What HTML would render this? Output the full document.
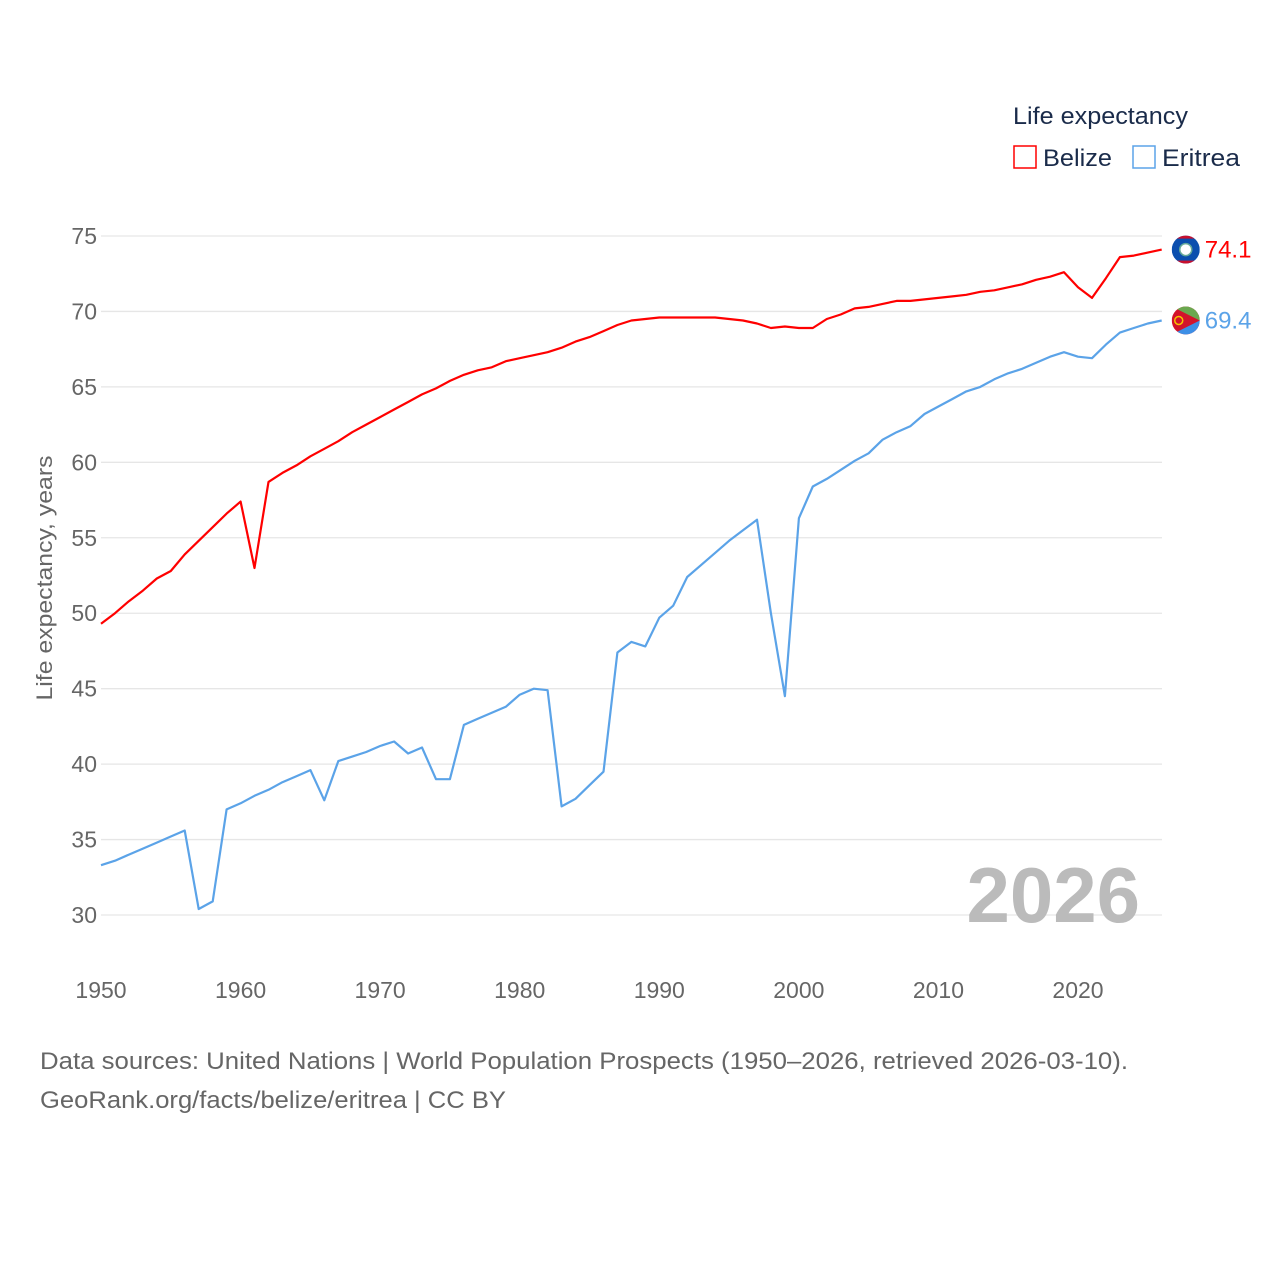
<!DOCTYPE html>
<html><head><meta charset="utf-8"><style>
html,body{margin:0;padding:0;background:#fff;}
svg{display:block;font-family:"Liberation Sans",sans-serif;}
</style></head><body>
<svg id="chart" width="1280" height="1280">
<defs>
<clipPath id="clipB"><circle id="cb" cx="0" cy="0" r="14"/></clipPath>
<clipPath id="clipE"><circle id="ce" cx="0" cy="0" r="14"/></clipPath>
</defs>
<g id="grid"></g>
<g id="yticks"></g>
<g id="xticks"></g>
<text x="52" y="578" transform="rotate(-90 52 578)" text-anchor="middle" font-size="22" fill="#666" textLength="245" lengthAdjust="spacingAndGlyphs">Life expectancy, years</text>
<text x="1140" y="922" text-anchor="end" font-size="78" font-weight="bold" fill="#bbb">2026</text>
<g id="series"></g>
<g>
<text x="1013" y="124" font-size="24" fill="#1a2b4a" textLength="175" lengthAdjust="spacingAndGlyphs">Life expectancy</text>
<g><rect x="1014" y="146" width="22" height="22" fill="none" stroke="#ff0000" stroke-width="1.5"/><text x="1043" y="166" font-size="24" fill="#1a2b4a" textLength="69" lengthAdjust="spacingAndGlyphs">Belize</text></g>
<g><rect x="1133" y="146" width="22" height="22" fill="none" stroke="#5ba3e8" stroke-width="1.5"/><text x="1162" y="166" font-size="24" fill="#1a2b4a" textLength="78" lengthAdjust="spacingAndGlyphs">Eritrea</text></g>
</g>
<text x="40" y="1069" font-size="24" fill="#666" textLength="1088" lengthAdjust="spacingAndGlyphs">Data sources: United Nations | World Population Prospects (1950–2026, retrieved 2026-03-10).</text>
<text x="40" y="1108" font-size="24" fill="#666" textLength="466" lengthAdjust="spacingAndGlyphs">GeoRank.org/facts/belize/eritrea | CC BY</text>
</svg>
<script>
const years = [];
for (let y = 1950; y <= 2026; y++) years.push(y);
const belize = [49.3,50.0,50.8,51.5,52.3,52.8,53.9,54.8,55.7,56.6,57.4,53.0,58.7,59.3,59.8,60.4,60.9,61.4,62.0,62.5,63.0,63.5,64.0,64.5,64.9,65.4,65.8,66.1,66.3,66.7,66.9,67.1,67.3,67.6,68.0,68.3,68.7,69.1,69.4,69.5,69.6,69.6,69.6,69.6,69.6,69.5,69.4,69.2,68.9,69.0,68.9,68.9,69.5,69.8,70.2,70.3,70.5,70.7,70.7,70.8,70.9,71.0,71.1,71.3,71.4,71.6,71.8,72.1,72.3,72.6,71.6,70.9,72.2,73.6,73.7,73.9,74.1];
const eritrea = [33.3,33.6,34.0,34.4,34.8,35.2,35.6,30.4,30.9,37.0,37.4,37.9,38.3,38.8,39.2,39.6,37.6,40.2,40.5,40.8,41.2,41.5,40.7,41.1,39.0,39.0,42.6,43.0,43.4,43.8,44.6,45.0,44.9,37.2,37.7,38.6,39.5,47.4,48.1,47.8,49.7,50.5,52.4,53.2,54.0,54.8,55.5,56.2,50.0,44.5,56.3,58.4,58.9,59.5,60.1,60.6,61.5,62.0,62.4,63.2,63.7,64.2,64.7,65.0,65.5,65.9,66.2,66.6,67.0,67.3,67.0,66.9,67.8,68.6,68.9,69.2,69.4];
const yTicks = [30,35,40,45,50,55,60,65,70,75];
const xTicks = [1950,1960,1970,1980,1990,2000,2010,2020];
const NS = "http://www.w3.org/2000/svg";
const xs = y => 101 + (y - 1950) * (1078 - 101) / 70;
const ys = v => 915 - (v - 30) * (915 - 236) / 45;
function mk(tag, attrs, parent){const e=document.createElementNS(NS,tag);for(const k in attrs)e.setAttribute(k,attrs[k]);parent.appendChild(e);return e;}
const grid=document.getElementById('grid'), yt=document.getElementById('yticks'), xt=document.getElementById('xticks'), ser=document.getElementById('series');
yTicks.forEach(t=>{
  const l=mk('line',{x1:101,x2:1162,y1:ys(t),y2:ys(t),stroke:'#e6e6e6','stroke-width':1.3},grid);
  
  
  const tx=mk('text',{x:97,y:ys(t)+8,'text-anchor':'end','font-size':23,fill:'#666'},yt);
  tx.textContent=t;
  
  
});
xTicks.forEach(t=>{
  const tx=mk('text',{x:xs(t),y:998,'text-anchor':'middle','font-size':23,fill:'#666'},xt);
  tx.textContent=t;
  
  
});
function line(vals,color,name){
  const d=vals.map((v,i)=>(i?'L':'M')+xs(years[i]).toFixed(1)+' '+ys(v).toFixed(1)).join(' ');
  const p=mk('path',{d:d,fill:'none',stroke:color,'stroke-width':2.2,'stroke-linejoin':'round'},ser);
  
  
  const last=vals[vals.length-1], lx=xs(years[years.length-1]), ly=ys(last);
  const cid = name==='belize'?'cb':'ce';
  const cc=document.getElementById(cid); cc.setAttribute('cx',lx+24); cc.setAttribute('cy',ly);
  const g=mk('g',{'clip-path':name==='belize'?'url(#clipB)':'url(#clipE)'},ser);
  
  
  mk('rect',{x:lx+10,y:ly-14,width:28,height:28,fill:name==='belize'?'#0b4fae':'#d3132b'},g);
  if(name==='eritrea'){
    mk('path',{d:`M${lx+10} ${ly-14} L${lx+38} ${ly-14} L${lx+38} ${ly} Z`,fill:'#6aa84f'},g);
    mk('path',{d:`M${lx+10} ${ly+14} L${lx+38} ${ly+14} L${lx+38} ${ly} Z`,fill:'#3d8fe6'},g);
    mk('circle',{cx:lx+17,cy:ly,r:4,fill:'none',stroke:'#f5c400','stroke-width':1.5},g);
  } else {
    mk('rect',{x:lx+10,y:ly-14,width:28,height:3,fill:'#c8102e'},g);
    mk('rect',{x:lx+10,y:ly+11,width:28,height:3,fill:'#c8102e'},g);
    mk('circle',{cx:lx+24,cy:ly,r:6,fill:'#fff',stroke:'#6a9','stroke-width':1.5},g);
  }
  const tx=mk('text',{x:lx+43,y:ly+8,'font-size':24,fill:color},ser);
  tx.textContent=last.toFixed(1);
  
  
}
line(eritrea,'#5ba3e8','eritrea');
line(belize,'#ff0000','belize');
</script>
</body></html>
